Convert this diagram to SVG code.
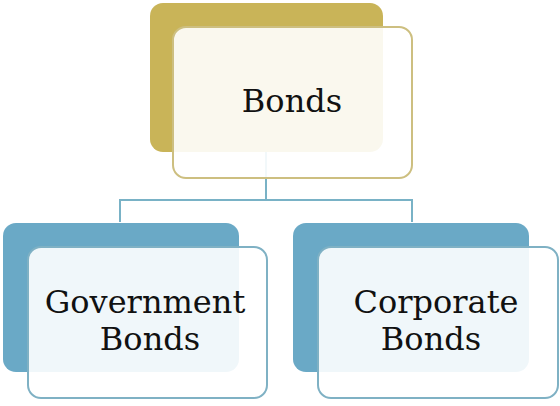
<svg xmlns="http://www.w3.org/2000/svg" width="560" height="406" viewBox="0 0 560 406">
<style>
.gback{fill:#C9B458}
.gfront{fill:#FFFFFF;fill-opacity:0.9;stroke:#CDBF80;stroke-width:2}
.bback{fill:#6AA9C6}
.bfront{fill:#FFFFFF;fill-opacity:0.9;stroke:#7FB1C4;stroke-width:2}
.conn{fill:none;stroke:#79B2C6;stroke-width:2}
text{font-family:"DejaVu Serif","Liberation Serif",serif;font-size:32px;fill:#111;text-anchor:middle}
</style>
<rect width="560" height="406" fill="#FFFFFF"/>
<g id="connectors">
<path class="conn" d="M266 150 V200 M120 222 V200 H412 V222"/>
</g>
<g id="bonds">
<rect class="gback" x="150" y="3" width="233" height="149" rx="13"/>
<rect class="gfront" x="173" y="27" width="239" height="151" rx="13"/>
<text x="292" y="112">Bonds</text>
</g>
<g id="government">
<rect class="bback" x="3" y="223" width="236" height="149" rx="13"/>
<rect class="bfront" x="28" y="247" width="239" height="151" rx="13"/>
<text x="145" y="313">Government</text>
<text x="150" y="350">Bonds</text>
</g>
<g id="corporate">
<rect class="bback" x="293" y="223" width="236" height="149" rx="13"/>
<rect class="bfront" x="318" y="247" width="240" height="151" rx="13"/>
<text x="436" y="313">Corporate</text>
<text x="431" y="350">Bonds</text>
</g>
</svg>
